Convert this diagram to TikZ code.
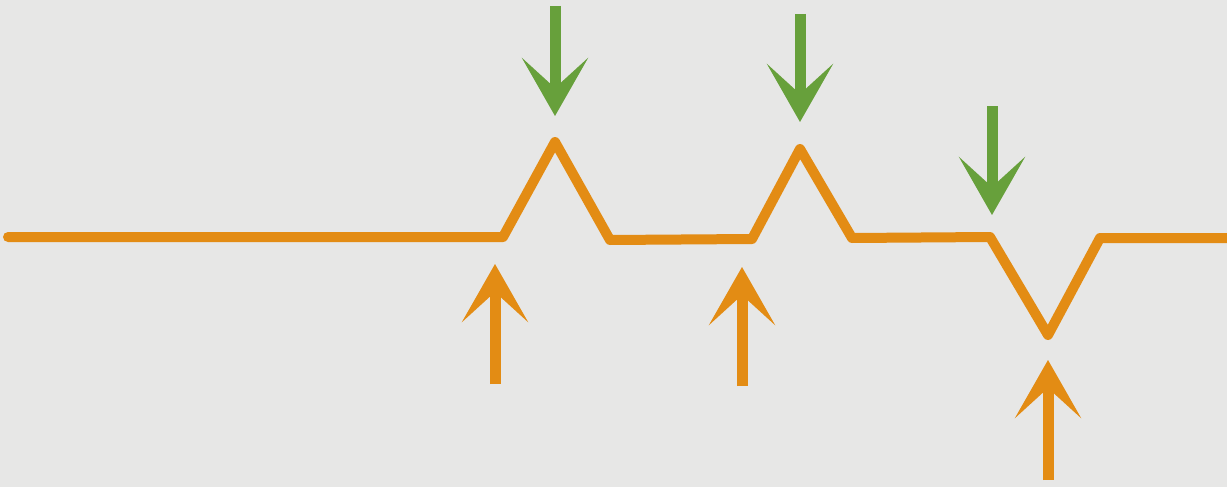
\documentclass[tikz,border=0pt]{standalone}
\usetikzlibrary{arrows.meta}
\definecolor{bg}{HTML}{E7E7E6}
\definecolor{sig}{HTML}{E38C14}
\definecolor{grn}{HTML}{67A03B}
\tikzset{
  signal/.style={draw=sig, line width=10pt, line join=round, line cap=round},
  uparrow/.style={draw=sig, line width=11pt, -{Stealth[length=58pt, width=66pt, inset=30pt]}},
  downarrow/.style={draw=grn, line width=11pt, -{Stealth[length=58pt, width=66pt, inset=30pt]}},
}
\begin{document}
\begin{tikzpicture}[x=1pt, y=-1pt]
\fill[bg] (0,0) rectangle (1227,487);
\useasboundingbox (0,0) rectangle (1227,487);
% signal coordinates
\coordinate (s0) at (8,237);
\coordinate (a1) at (503,237);
\coordinate (p1) at (555,142);
\coordinate (b1) at (610,240);
\coordinate (a2) at (752,239);
\coordinate (p2) at (800,149);
\coordinate (b2) at (852,238);
\coordinate (a3) at (990,237);
\coordinate (p3) at (1048,335);
\coordinate (b3) at (1100,238);
\coordinate (s1) at (1227,238);
\draw[signal] (s0) -- (a1) -- (p1) -- (b1) -- (a2) -- (p2) -- (b2) -- (a3) -- (p3) -- (b3) -- (s1);
% green arrows
\coordinate (g1s) at (555,6);   \coordinate (g1e) at (555,116);
\coordinate (g2s) at (800,14);  \coordinate (g2e) at (800,122);
\coordinate (g3s) at (992,106); \coordinate (g3e) at (992,215);
\draw[downarrow] (g1s) -- (g1e);
\draw[downarrow] (g2s) -- (g2e);
\draw[downarrow] (g3s) -- (g3e);
% orange arrows
\coordinate (o1s) at (495,384);  \coordinate (o1e) at (495,264);
\coordinate (o2s) at (742,386);  \coordinate (o2e) at (742,267);
\coordinate (o3s) at (1048,480); \coordinate (o3e) at (1048,360);
\draw[uparrow] (o1s) -- (o1e);
\draw[uparrow] (o2s) -- (o2e);
\draw[uparrow] (o3s) -- (o3e);
\end{tikzpicture}
\end{document}
